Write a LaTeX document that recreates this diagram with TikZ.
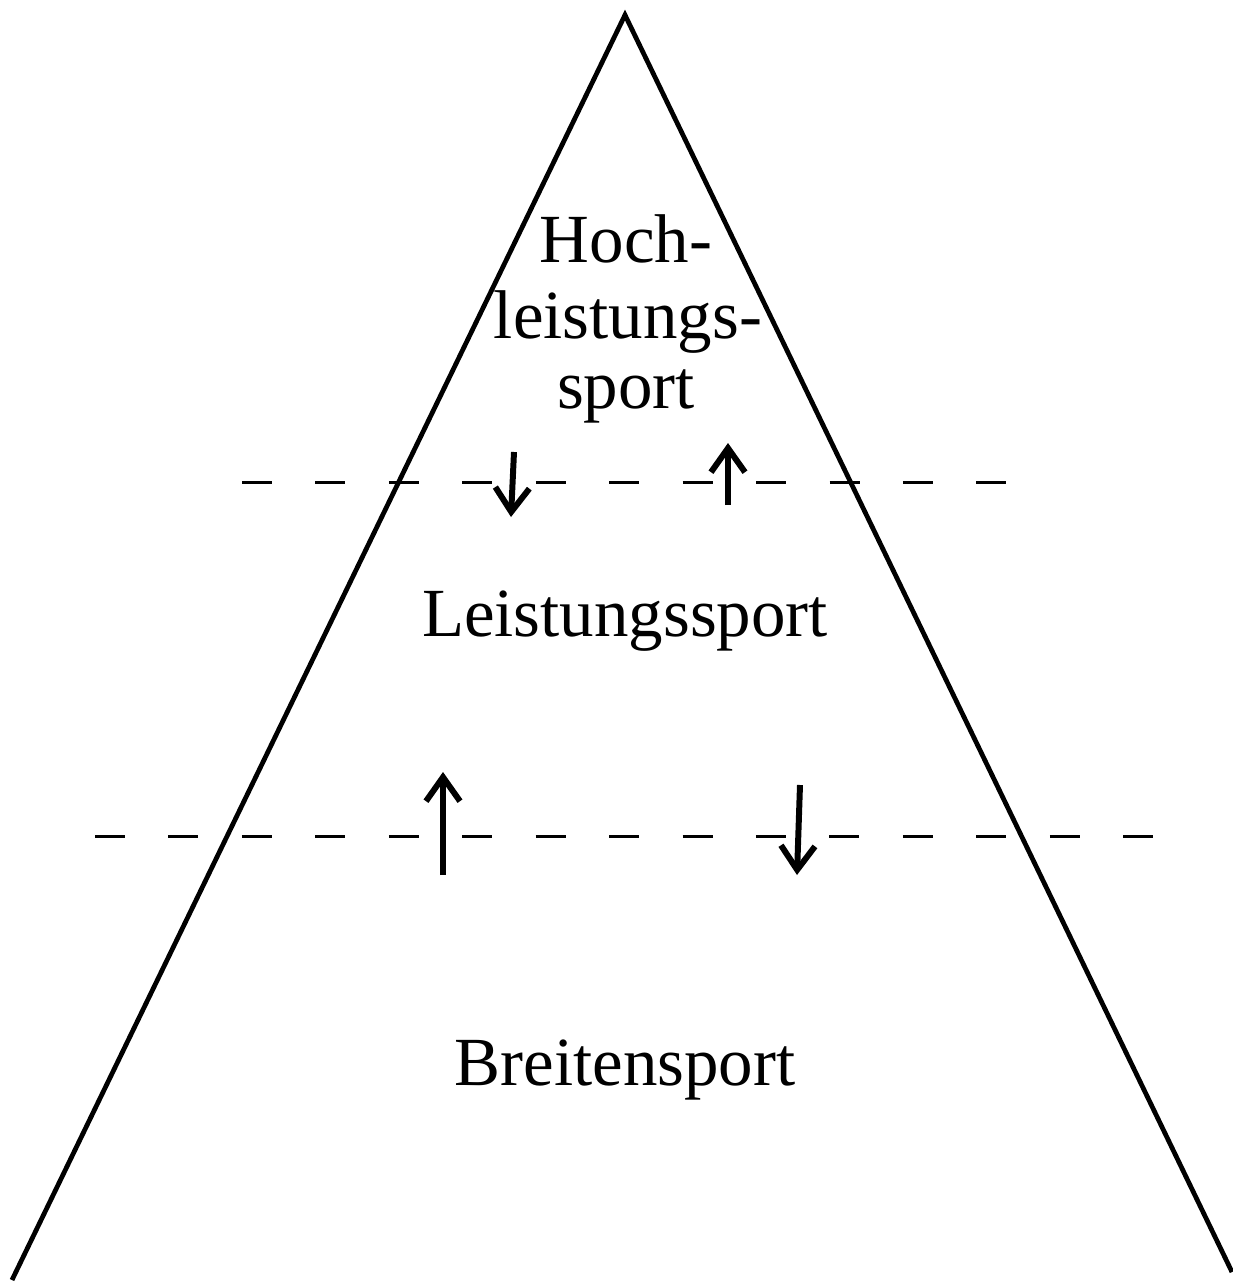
\documentclass[tikz,border=0pt]{standalone}
\usepackage{fontspec}
\setmainfont{Liberation Serif}
\usetikzlibrary{arrows.meta}
\begin{document}
\begin{tikzpicture}[x=0.01cm,y=-0.01cm,
  edge/.style={line width=1.35pt},
  level/.style={line width=0.85pt, dash pattern=on 0.30cm off 0.434cm},
  flow/.style={line width=1.7pt, -{Straight Barb[length=0.24cm,width=0.34cm,line width=1.7pt]}},
  lbl/.style={anchor=base, inner sep=0pt, font=\fontsize{19.6}{21}\selectfont}]
\useasboundingbox (0,0) rectangle (1233,1284);
% pyramid
\coordinate (apex) at (625,15);
\coordinate (bl) at (12,1280);
\coordinate (br) at (1232,1272);
\draw[edge, line join=miter] (bl) -- (apex) -- (br);
% level lines
\coordinate (l1a) at (242,482);
\coordinate (l1b) at (1007,482);
\coordinate (l2a) at (95,836);
\coordinate (l2b) at (1153,836);
\draw[level] (l1a) -- (l1b);
\draw[level] (l2a) -- (l2b);
% labels
\node[lbl] (hoch) at (626,262) {Hoch-};
\node[lbl] (leist) at (628,338) {leistungs-};
\node[lbl] (sport) at (626,408) {sport};
\node[lbl] (ls) at (625,636) {Leistungssport};
\node[lbl] (bs) at (625,1085) {Breitensport};
% arrows
\coordinate (a1s) at (514,452);
\coordinate (a1e) at (511,517);
\coordinate (a2s) at (728,505);
\coordinate (a2e) at (728,443);
\coordinate (a3s) at (443,875);
\coordinate (a3e) at (443,772);
\coordinate (a4s) at (800,785);
\coordinate (a4e) at (797,875);
\draw[flow] (a1s) -- (a1e);
\draw[flow] (a2s) -- (a2e);
\draw[flow] (a3s) -- (a3e);
\draw[flow] (a4s) -- (a4e);
\end{tikzpicture}
\end{document}
